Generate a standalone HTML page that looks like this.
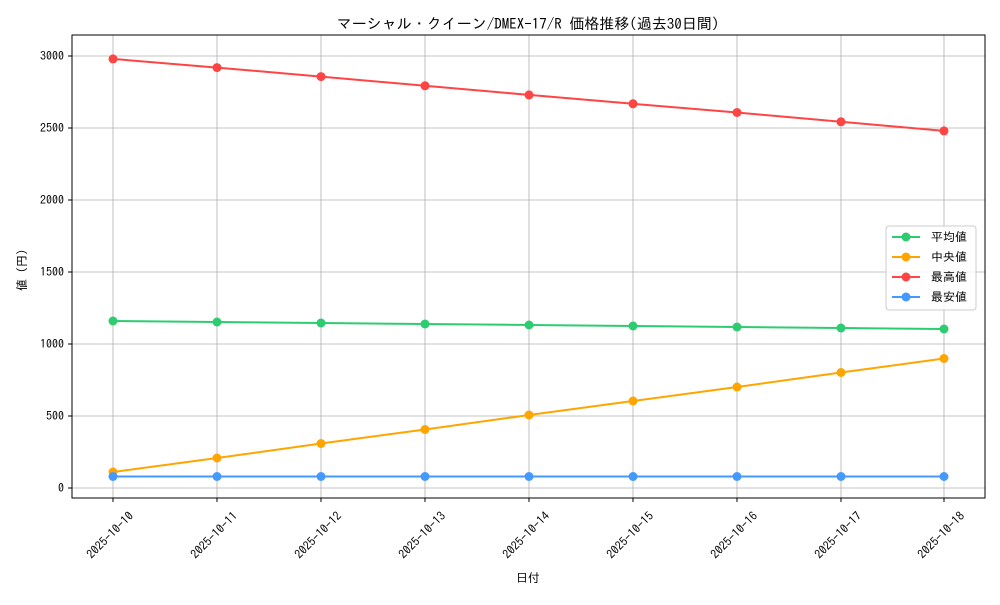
<!DOCTYPE html>
<html><head><meta charset="utf-8"><style>
body{margin:0;background:#fff}
text{font-family:"IPAGothic","Liberation Sans","Noto Sans CJK JP",sans-serif;fill:#000}
</style></head><body>
<svg width="1000" height="600" xmlns="http://www.w3.org/2000/svg">
<rect width="1000" height="600" fill="#fff"/>
<text x="528" y="29" font-size="15" text-anchor="middle">マーシャル・クイーン/DMEX-17/R 価格推移(過去30日間)</text>
<g stroke="#b0b0b0" stroke-width="0.8">
<line x1="72" x2="985" y1="488" y2="488"/><line x1="72" x2="985" y1="416" y2="416"/>
<line x1="72" x2="985" y1="344" y2="344"/><line x1="72" x2="985" y1="272" y2="272"/>
<line x1="72" x2="985" y1="200" y2="200"/><line x1="72" x2="985" y1="128" y2="128"/>
<line x1="72" x2="985" y1="56" y2="56"/>
<line y1="35" y2="498" x1="113" x2="113"/><line y1="35" y2="498" x1="217" x2="217"/>
<line y1="35" y2="498" x1="321" x2="321"/><line y1="35" y2="498" x1="425" x2="425"/>
<line y1="35" y2="498" x1="529" x2="529"/><line y1="35" y2="498" x1="633" x2="633"/>
<line y1="35" y2="498" x1="737" x2="737"/><line y1="35" y2="498" x1="841" x2="841"/>
<line y1="35" y2="498" x1="944" x2="944"/>
</g>
<rect x="72" y="35" width="913" height="463" fill="none" stroke="#000" stroke-width="1"/>
<g stroke="#000"><line x1="68" x2="72" y1="488" y2="488"/><line x1="68" x2="72" y1="416" y2="416"/><line x1="68" x2="72" y1="344" y2="344"/><line x1="68" x2="72" y1="272" y2="272"/><line x1="68" x2="72" y1="200" y2="200"/><line x1="68" x2="72" y1="128" y2="128"/><line x1="68" x2="72" y1="56" y2="56"/></g>
<g font-size="12" text-anchor="end">
<text x="64" y="492">0</text><text x="64" y="420">500</text><text x="64" y="348">1000</text><text x="64" y="276">1500</text><text x="64" y="204">2000</text><text x="64" y="132">2500</text><text x="64" y="60">3000</text>
</g>
<g font-size="12" text-anchor="middle">
<text transform="translate(113,538) rotate(-45)">2025-10-10</text>
<text transform="translate(217,538) rotate(-45)">2025-10-11</text>
<text transform="translate(321,538) rotate(-45)">2025-10-12</text>
<text transform="translate(425,538) rotate(-45)">2025-10-13</text>
<text transform="translate(529,538) rotate(-45)">2025-10-14</text>
<text transform="translate(633,538) rotate(-45)">2025-10-15</text>
<text transform="translate(737,538) rotate(-45)">2025-10-16</text>
<text transform="translate(841,538) rotate(-45)">2025-10-17</text>
<text transform="translate(944,538) rotate(-45)">2025-10-18</text>
</g>
<g stroke="#000"><line y1="498" y2="502" x1="113" x2="113"/><line y1="498" y2="502" x1="217" x2="217"/><line y1="498" y2="502" x1="321" x2="321"/><line y1="498" y2="502" x1="425" x2="425"/><line y1="498" y2="502" x1="529" x2="529"/><line y1="498" y2="502" x1="633" x2="633"/><line y1="498" y2="502" x1="737" x2="737"/><line y1="498" y2="502" x1="841" x2="841"/><line y1="498" y2="502" x1="944" x2="944"/></g>
<text x="528" y="582" font-size="12" text-anchor="middle">日付</text>
<text transform="translate(26,270) rotate(-90)" font-size="12" text-anchor="middle">値 (円)</text>
<g fill="none" stroke-width="2">
<polyline stroke="#ff4444" points="113,58.9 217,67.6 321,76.6 425,85.8 529,94.9 633,103.8 737,112.5 841,121.8 944,130.9"/>
<polyline stroke="#2ecc71" points="113,321 217,322 321,323 425,324 529,325 633,326 737,327 841,328 944,329"/>
<polyline stroke="#ffa500" points="113,472 217,458 321,443.5 425,429.5 529,415 633,401 737,387 841,372.5 944,358.5"/>
<polyline stroke="#4499ff" points="113,476.5 944,476.5"/>
</g>
<g fill="#ff4444"><circle cx="113" cy="58.9" r="4.5"/><circle cx="217" cy="67.6" r="4.5"/><circle cx="321" cy="76.6" r="4.5"/><circle cx="425" cy="85.8" r="4.5"/><circle cx="529" cy="94.9" r="4.5"/><circle cx="633" cy="103.8" r="4.5"/><circle cx="737" cy="112.5" r="4.5"/><circle cx="841" cy="121.8" r="4.5"/><circle cx="944" cy="130.9" r="4.5"/></g>
<g fill="#2ecc71"><circle cx="113" cy="321" r="4.5"/><circle cx="217" cy="322" r="4.5"/><circle cx="321" cy="323" r="4.5"/><circle cx="425" cy="324" r="4.5"/><circle cx="529" cy="325" r="4.5"/><circle cx="633" cy="326" r="4.5"/><circle cx="737" cy="327" r="4.5"/><circle cx="841" cy="328" r="4.5"/><circle cx="944" cy="329" r="4.5"/></g>
<g fill="#ffa500"><circle cx="113" cy="472" r="4.5"/><circle cx="217" cy="458" r="4.5"/><circle cx="321" cy="443.5" r="4.5"/><circle cx="425" cy="429.5" r="4.5"/><circle cx="529" cy="415" r="4.5"/><circle cx="633" cy="401" r="4.5"/><circle cx="737" cy="387" r="4.5"/><circle cx="841" cy="372.5" r="4.5"/><circle cx="944" cy="358.5" r="4.5"/></g>
<g fill="#4499ff"><circle cx="113" cy="476.5" r="4.5"/><circle cx="217" cy="476.5" r="4.5"/><circle cx="321" cy="476.5" r="4.5"/><circle cx="425" cy="476.5" r="4.5"/><circle cx="529" cy="476.5" r="4.5"/><circle cx="633" cy="476.5" r="4.5"/><circle cx="737" cy="476.5" r="4.5"/><circle cx="841" cy="476.5" r="4.5"/><circle cx="944" cy="476.5" r="4.5"/></g>
<rect x="886" y="226" width="90" height="84" rx="3" fill="#fff" fill-opacity="0.8" stroke="#ccc"/>
<g stroke-width="2">
<line x1="892" x2="920" y1="237" y2="237" stroke="#2ecc71"/><circle cx="906" cy="237" r="4.5" fill="#2ecc71"/>
<line x1="892" x2="920" y1="257" y2="257" stroke="#ffa500"/><circle cx="906" cy="257" r="4.5" fill="#ffa500"/>
<line x1="892" x2="920" y1="277" y2="277" stroke="#ff4444"/><circle cx="906" cy="277" r="4.5" fill="#ff4444"/>
<line x1="892" x2="920" y1="297" y2="297" stroke="#4499ff"/><circle cx="906" cy="297" r="4.5" fill="#4499ff"/>
</g>
<g font-size="12"><text x="931" y="241">平均値</text><text x="931" y="261">中央値</text><text x="931" y="281">最高値</text><text x="931" y="301">最安値</text></g>
</svg>
</body></html>
